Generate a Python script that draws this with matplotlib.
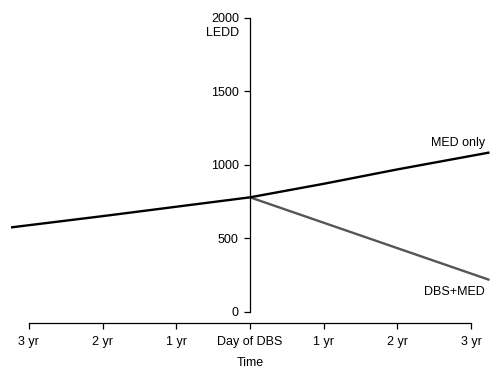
import matplotlib
matplotlib.use("Agg")
import matplotlib.pyplot as plt

plt.rcParams['font.family'] = ['Liberation Sans', 'DejaVu Sans']
plt.rcParams['font.size'] = 9

# Data
med_years = [-3.25, -2, -1, 0, 1, 2, 3.25]
med_ledd = [575, 652, 716, 780, 872, 970, 1085]
dbs_years = [0, 3.25]
dbs_ledd = [780, 218]

x_ticks = [-3, -2, -1, 0, 1, 2, 3]
x_labels = ["3 yr", "2 yr", "1 yr", "Day of DBS", "1 yr", "2 yr", "3 yr"]
y_ticks = [0, 500, 1000, 1500, 2000]

fig = plt.figure(figsize=(5, 3.78), dpi=100)
ax = fig.add_axes([0.021, 1 - 323/378, 0.958, (323 - 18)/378])

ax.plot(med_years, med_ledd, color='black', lw=1.7, solid_capstyle='butt', zorder=3)
ax.plot(dbs_years, dbs_ledd, color='#555555', lw=1.7, solid_capstyle='butt', zorder=2)

ax.set_xlim(-3.25, 3.25)
ax.set_ylim(-75, 2000)

for s in ['top', 'right']:
    ax.spines[s].set_visible(False)
ax.spines['left'].set_position(('data', 0))
ax.spines['left'].set_bounds(0, 2000)
ax.spines['bottom'].set_bounds(-3, 3)
ax.spines['left'].set_linewidth(0.9)
ax.spines['bottom'].set_linewidth(0.9)

ax.set_xticks(x_ticks)
ax.set_xticklabels(x_labels)
ax.set_yticks(y_ticks)
ax.tick_params(axis='both', direction='out', length=4, width=0.9, pad=4)
ax.tick_params(axis='x', pad=5)

ax.annotate("LEDD", xy=(0, 2000), xytext=(-11, -15), textcoords='offset pixels',
            ha='right', va='center')
ax.text(3.19, 1152, "MED only", ha='right', va='center')
ax.text(3.19, 136, "DBS+MED", ha='right', va='center')
ax.set_xlabel("Time", labelpad=7)

fig.savefig("out.png", dpi=100)
